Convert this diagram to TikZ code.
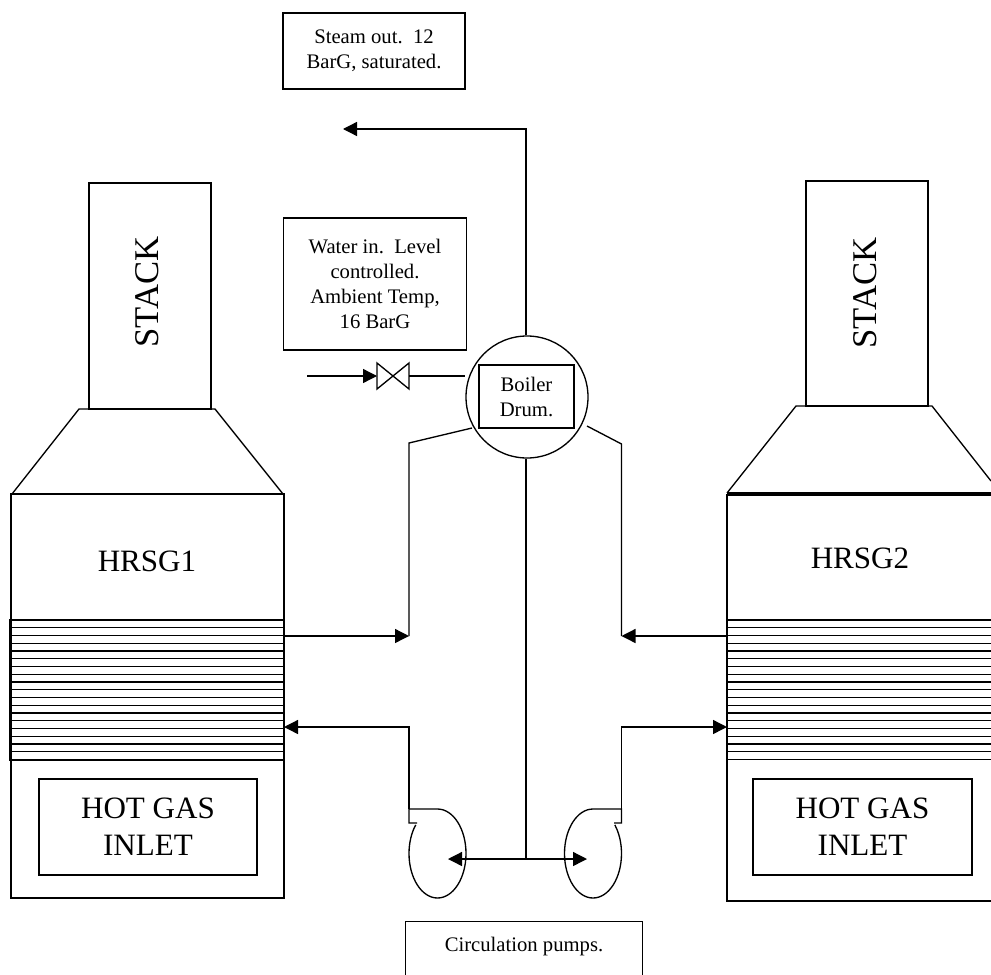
\documentclass[tikz,border=0pt]{standalone}
\usepackage{fontspec}
\setmainfont{Liberation Serif}
\usetikzlibrary{arrows.meta,calc}
\tikzset{
  %% plain labelled box
  lblbox/.style={rectangle,draw=black,line width=1pt,inner sep=0pt,
    font=\fontsize{15.5}{18.75}\selectfont,align=center},
  %% hrsg casing and stack
  casing/.style={rectangle,draw=black,line width=1pt,inner sep=0pt},
  biglbl/.style={font=\fontsize{23.3}{27.7}\selectfont,align=center},
  stacklbl/.style={font=\fontsize{26}{30}\selectfont,rotate=90},
  %% pipes
  pipe/.style={draw=black,line width=1pt},
  arr/.style={-{Triangle[length=10.5pt,width=10.5pt]},line width=1pt},
  coil/.style={draw=black,line width=1.1pt},
}
\begin{document}
\begin{tikzpicture}[x=0.75pt,y=-0.75pt]
  \useasboundingbox (0,0) rectangle (991,974);
  \clip (0,0) rectangle (991,974);

  %% left hrsg
  \node[casing,minimum width=122pt*0.75,minimum height=226pt*0.75] (stack1) at (150,296) {};
  \node[stacklbl] (stack1lbl) at (147,292) {STACK};
  \node[casing,minimum width=273pt*0.75,minimum height=404pt*0.75] (body1) at (147.5,696) {};
  \node[biglbl] (hrsg1lbl) at (147,561) {HRSG1};
  \node[casing,minimum width=218pt*0.75,minimum height=96pt*0.75,
    biglbl] (inlet1) at (148,827) {HOT GAS\\INLET};
  \coordinate (hood1a) at (12,494);
  \coordinate (hood1b) at (79,409);
  \coordinate (hood1c) at (215,409);
  \coordinate (hood1d) at (283,494);
  \draw[pipe] (hood1a) -- (hood1b) -- (hood1c) -- (hood1d);
  \foreach \i in {0,...,18}
    \draw[coil] (10,620+7.75*\i) -- (284,620+7.75*\i);
  \draw[pipe] (10,620) rectangle (284,760);

  %% right hrsg
  \node[casing,minimum width=273pt*0.75,minimum height=406pt*0.75] (body2) at (863.5,698) {};
  \node[casing,minimum width=122pt*0.75,minimum height=225pt*0.75] (stack2) at (867,293.5) {};
  \node[stacklbl] (stack2lbl) at (865,293) {STACK};
  \node[biglbl] (hrsg2lbl) at (860,558) {HRSG2};
  \node[casing,minimum width=219pt*0.75,minimum height=96pt*0.75,
    biglbl] (inlet2) at (862.5,827) {HOT GAS\\INLET};
  \coordinate (hood2a) at (727,493);
  \coordinate (hood2b) at (796,406);
  \coordinate (hood2c) at (932,406);
  \coordinate (hood2d) at (991,481);
  \draw[pipe] (hood2a) -- (hood2b) -- (hood2c) -- (hood2d);
  \draw[pipe] (hood2a) -- (991,493);
  \foreach \i in {0,...,18}
    \draw[coil] (727,620+7.75*\i) -- (991,620+7.75*\i);

  %% drum
  \node[circle,draw=black,line width=1pt,minimum size=122pt*0.75,inner sep=0pt] (drum) at (527,397) {};
  \node[lblbox,minimum width=95pt*0.75,minimum height=63pt*0.75] (drumlbl) at (526.5,396.5) {Boiler\\Drum.};

  %% text boxes
  \node[lblbox,minimum width=182pt*0.75,minimum height=76pt*0.75] (steam) at (374,51) {Steam out.\ \ 12\\BarG, saturated.};
  \node[lblbox,minimum width=183pt*0.75,minimum height=132pt*0.75] (water) at (375,284) {Water in.\ \ Level\\controlled.\\Ambient Temp,\\16 BarG};
  \node[lblbox,anchor=north,minimum width=237pt*0.75,
    text height=22pt,text depth=60pt] (pumpbox) at (524,921) {Circulation pumps.};

  %% water feed and valve
  \coordinate (feed) at (307,376);
  \coordinate (vl) at (377,376);
  \coordinate (vr) at (409,376);
  \draw[arr] (feed) -- (vl);
  \draw[pipe] (377,363) -- (409,389) -- (409,363) -- (377,389) -- cycle;
  \draw[pipe] (vr) -- (drum.west |- vr);

  %% steam out
  \coordinate (join) at (526,859);
  \coordinate (steamend) at (343,129);
  \draw[arr] (drum.north -| join) -- (join |- steamend) -- (steamend);

  %% risers
  \coordinate (rise1) at (409,443);
  \coordinate (rise2) at (621.5,444);
  \coordinate (in1) at (284,636);
  \coordinate (in2) at (727,636);
  \draw[pipe] (472,428) -- (rise1) -- (rise1 |- in1);
  \draw[arr] (in1) -- (rise1 |- in1);
  \draw[pipe] (587,426) -- (rise2) -- (rise2 |- in2);
  \draw[arr] (in2) -- (rise2 |- in2);

  %% pumps
  \coordinate (pump1) at (437.5,809);
  \coordinate (pump2) at (593,809);
  \draw[pipe] (drum.south -| join) -- (join);
  \draw[arr] (join) -- (448,859);
  \draw[arr] (join) -- (587,859);
  \draw[pipe] (417,823) -- (409,823) -- (409,809) -- (pump1)
    arc[start angle=-90,delta angle=310,x radius=28.5,y radius=44.5];
  \draw[pipe] (614,823) -- (621.5,823) -- (621.5,809) -- (pump2)
    arc[start angle=-90,delta angle=-310,x radius=28.5,y radius=44.5];

  %% returns
  \coordinate (out1) at (284,727);
  \coordinate (out2) at (727,727);
  \draw[arr] (409,809) -- (409,727) -- (out1);
  \draw[arr] (621.5,809) -- (621.5,727) -- (out2);
\end{tikzpicture}
\end{document}
